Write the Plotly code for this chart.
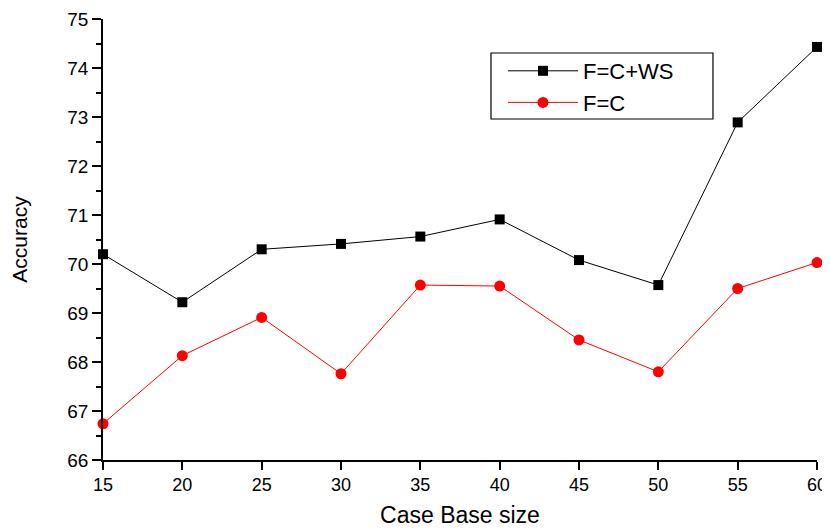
import plotly.graph_objects as go

case_base_size = [15, 20, 25, 30, 35, 40, 45, 50, 55, 60]
acc_c_ws = [70.20, 69.22, 70.30, 70.41, 70.56, 70.91, 70.08, 69.57, 72.89, 74.43]
acc_c = [66.74, 68.13, 68.91, 67.76, 69.57, 69.55, 68.45, 67.80, 69.50, 70.03]
y_ticks = [66, 67, 68, 69, 70, 71, 72, 73, 74, 75]
x_ticks = [15, 20, 25, 30, 35, 40, 45, 50, 55, 60]

font = "Liberation Sans, Arial, sans-serif"

fig = go.Figure()
fig.add_trace(go.Scatter(
    x=case_base_size, y=acc_c_ws, name="F=C+WS", mode="lines+markers",
    line=dict(color="black", width=1),
    marker=dict(symbol="square", size=10, color="black"),
    cliponaxis=False,
))
fig.add_trace(go.Scatter(
    x=case_base_size, y=acc_c, name="F=C", mode="lines+markers",
    line=dict(color="#ff0000", width=1),
    marker=dict(symbol="circle", size=11, color="#ff0000"),
    cliponaxis=False,
))

# legend frame (drawn as a shape so it can be wider than the legend text)
fig.add_shape(type="rect", xref="paper", yref="paper",
              x0=0.5434, x1=0.8543, y0=0.7732, y1=0.9229,
              line=dict(color="black", width=1.2), fillcolor="white", layer="below")

fig.update_layout(
    width=822, height=521,
    margin=dict(l=95, r=13, t=11, b=69),
    paper_bgcolor="white", plot_bgcolor="white",
    font=dict(family=font, color="black", size=18),
    showlegend=True,
    legend=dict(
        x=0.5602, y=0.9297, xanchor="left", yanchor="top",
        bgcolor="rgba(0,0,0,0)", borderwidth=0,
        font=dict(size=22, family=font, color="black"),
        itemwidth=70, tracegroupgap=0,
    ),
    xaxis=dict(
        range=[15, 60], tickvals=x_ticks, ticktext=[str(v) for v in x_ticks],
        showgrid=False, zeroline=False, showline=True, linecolor="black", linewidth=1.5,
        ticks="outside", ticklen=8, tickwidth=1.5, tickcolor="black",
        tickfont=dict(size=18, family=font), automargin=False,
        title=dict(text="Case Base size", font=dict(size=23, family=font), standoff=13),
    ),
    yaxis=dict(
        range=[66, 75], tickvals=y_ticks, ticktext=[str(v) for v in y_ticks],
        showgrid=False, zeroline=False, showline=True, linecolor="black", linewidth=1.5,
        ticks="outside", ticklen=9, tickwidth=1.5, tickcolor="black",
        tickfont=dict(size=19, family=font), automargin=False,
        minor=dict(dtick=0.5, ticks="outside", ticklen=5, tickwidth=1.5, tickcolor="black", showgrid=False),
        title=dict(text="Accuracy", font=dict(size=21, family=font), standoff=38),
    ),
)

fig.write_html("out.html")
